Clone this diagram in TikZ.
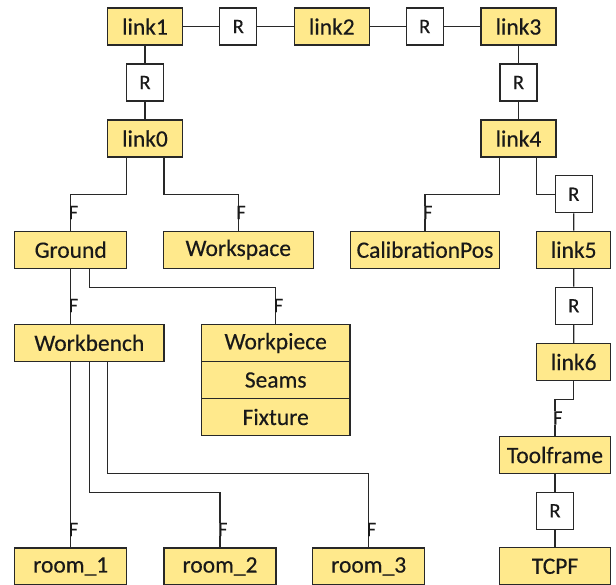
\documentclass[tikz,border=0pt]{standalone}
\usepackage{fontspec}
\setmainfont{Carlito}[FakeBold=0.35]
\newfontfamily\lblfont{Carlito}[FakeBold=0.35]
\definecolor{boxfill}{RGB}{255,233,140}
\definecolor{edge}{RGB}{40,40,40}
\begin{document}
\begin{tikzpicture}[x=1pt,y=-1pt,
  lbox/.style={draw=edge,fill=boxfill,line width=1.3pt,minimum height=37pt,inner sep=0pt,text=black!90,font=\lblfont\fontsize{23.5}{28}\selectfont},
  rbox/.style={draw=edge,fill=white,line width=1.3pt,minimum width=37pt,minimum height=37pt,inner sep=0pt,text=black!90,font=\lblfont\fontsize{20.5}{24}\selectfont},
  conn/.style={draw=edge,line width=1.3pt},
  flab/.style={fill=white,inner sep=0pt,anchor=west,text=black!90,font=\lblfont\fontsize{20.5}{24}\selectfont}
]
\useasboundingbox (0,0) rectangle (616,585);
% top row
\node[lbox,minimum width=75pt] (link1) at (145,26.5) {link1};
\node[rbox] (r1) at (238.3,26.5) {R};
\node[lbox,minimum width=75pt] (link2) at (331.8,26.5) {link2};
\node[rbox] (r2) at (424.7,26.5) {R};
\node[lbox,minimum width=75pt] (link3) at (518.5,26.5) {link3};
\node[rbox] (r3) at (145,82.5) {R};
\node[lbox,minimum width=75pt] (link0) at (145,138.5) {link0};
\node[rbox] (r4) at (518.5,82.5) {R};
\node[lbox,minimum width=75pt] (link4) at (518.5,138.5) {link4};
% level 2
\node[lbox,minimum width=112pt] (ground) at (70.7,249.7) {Ground};
\node[lbox,minimum width=150pt] (workspace) at (238.3,249.7) {Workspace};
\node[lbox,minimum width=148.6pt] (calib) at (425,249.7) {CalibrationPos};
\node[rbox] (r5) at (573.8,194.3) {R};
\node[lbox,minimum width=74pt] (link5) at (573.7,249.7) {link5};
\node[rbox] (r6) at (573.8,305.8) {R};
\node[lbox,minimum width=74pt] (link6) at (573.7,362) {link6};
\node[lbox,minimum width=111.4pt] (toolframe) at (555,455) {Toolframe};
\node[rbox] (r7) at (555,510.8) {R};
\node[lbox,minimum width=111.4pt] (tcpf) at (555,566.3) {TCPF};
% level 3
\node[lbox,minimum width=149.3pt] (workbench) at (89.3,342.8) {Workbench};
\node[lbox,minimum width=148.7pt] (workpiece) at (275.7,343) {Workpiece};
\node[lbox,minimum width=148.7pt] (seams) at (275.7,380) {Seams};
\node[lbox,minimum width=148.7pt] (fixture) at (275.7,417) {Fixture};
% rooms
\node[lbox,minimum width=112pt] (room1) at (70.7,566.5) {room\_1};
\node[lbox,minimum width=112pt] (room2) at (220,566.5) {room\_2};
\node[lbox,minimum width=112pt] (room3) at (368.7,566.5) {room\_3};
% connectors
\draw[conn] (link1.east) -- (r1.west);
\draw[conn] (r1.east) -- (link2.west);
\draw[conn] (link2.east) -- (r2.west);
\draw[conn] (r2.east) -- (link3.west);
\draw[conn] (link1.south) -- (r3.north);
\draw[conn] (r3.south) -- (link0.north);
\draw[conn] (link3.south) -- (r4.north);
\draw[conn] (r4.south) -- (link4.north);
\draw[conn] ([xshift=-18.5pt]link0.south) -- ++(0,37) -| (ground.north);
\draw[conn] ([xshift=19pt]link0.south) -- ++(0,37) -| (workspace.north);
\draw[conn] ([xshift=-19.2pt]link4.south) -- ++(0,37) -| (calib.north);
\draw[conn] ([xshift=18.2pt]link4.south) |- (r5.west);
\draw[conn] (r5.south) -- (link5.north);
\draw[conn] (link5.south) -- (r6.north);
\draw[conn] (r6.south) -- (link6.north);
\draw[conn] (link6.south) -- ++(0,18.3) -| (toolframe.north);
\draw[conn] (toolframe.south) -- (r7.north);
\draw[conn] (r7.south) -- (tcpf.north);
\draw[conn] (ground.south) -- ([xshift=-18.6pt]workbench.north);
\draw[conn] ([xshift=18.6pt]ground.south) -- ++(0,18.4) -| (workpiece.north);
\draw[conn] ([xshift=-18.6pt]workbench.south) -- (room1.north);
\draw[conn] (workbench.south) -- ++(0,130.6) -| (room2.north);
\draw[conn] ([xshift=18.4pt]workbench.south) -- ++(0,111.6) -| (room3.north);
% F labels
\node[flab] (f1) at (68.5,212.5) {F};
\node[flab] (f2) at (236.1,212.5) {F};
\node[flab] (f3) at (422.8,212.5) {F};
\node[flab] (f4) at (552.8,418) {F};
\node[flab] (f5) at (68.5,305.5) {F};
\node[flab] (f6) at (273.5,305.5) {F};
\node[flab] (f7) at (68.5,529.5) {F};
\node[flab] (f8) at (217.8,529.5) {F};
\node[flab] (f9) at (366.5,529.5) {F};
\end{tikzpicture}
\end{document}
